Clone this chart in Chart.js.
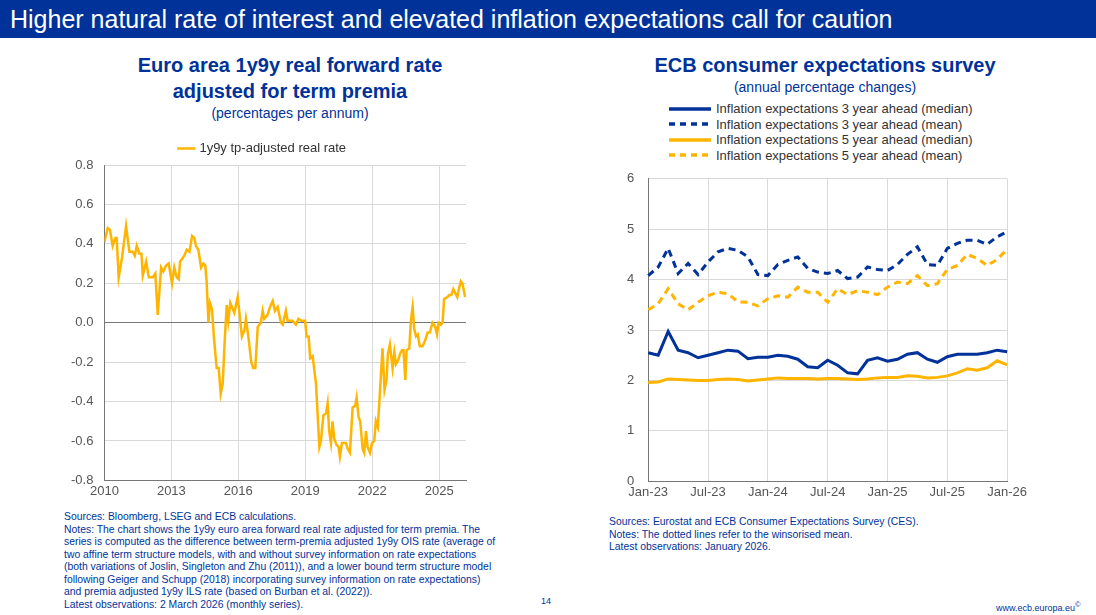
<!DOCTYPE html>
<html>
<head>
<meta charset="utf-8">
<script src="https://cdn.jsdelivr.net/npm/chart.js@4"></script>
<style>
  body { margin: 0; width: 1096px; height: 615px; background: #fff; font-family: "Liberation Sans", Arial, sans-serif; position: relative; overflow: hidden; }
  .bar { position: absolute; left: 0; top: 0; width: 1096px; height: 38px; background: #003299; color: #fff; font-size: 25px; line-height: 38px; padding-left: 10px; box-sizing: border-box; }
  .t { position: absolute; text-align: center; color: #003299; }
  .t b { font-size: 20px; display: block; line-height: 26px; }
  .t span { font-size: 14px; }
  .note { position: absolute; font-size: 10.4px; line-height: 12.5px; color: #003299; }
  .box { position: absolute; }
  .leg { position: absolute; left: 668px; top: 101px; font-size: 13px; color: #333; line-height: 15.5px; }
  .leg div { display: flex; align-items: center; }
  .leg svg { margin-right: 4px; }
</style>
</head>
<body>
<div class="bar">Higher natural rate of interest and elevated inflation expectations call for caution</div>
<div class="t" style="left:80px;width:420px;top:52px"><b>Euro area 1y9y real forward rate<br>adjusted for term premia</b><span>(percentages per annum)</span></div>
<div class="t" style="left:600px;width:450px;top:52px"><b>ECB consumer expectations survey</b><span>(annual percentage changes)</span></div>
<div class="leg" id="leg"></div>
<div class="box" style="left:60px;top:132px;width:420px;height:370px"><canvas id="c1"></canvas></div>
<div class="box" style="left:610px;top:157px;width:420px;height:346px"><canvas id="c2"></canvas></div>
<div class="note" style="left:64px;top:511px;width:436px">Sources: Bloomberg, LSEG and ECB calculations.<br>Notes: The chart shows the 1y9y euro area forward real rate adjusted for term premia. The series is computed as the difference between term-premia adjusted 1y9y OIS rate (average of two affine term structure models, with and without survey information on rate expectations (both variations of Joslin, Singleton and Zhu (2011)), and a lower bound term structure model following Geiger and Schupp (2018) incorporating survey information on rate expectations) and premia adjusted 1y9y ILS rate (based on Burban et al. (2022)).<br>Latest observations: 2 March 2026 (monthly series).</div>
<div class="note" style="left:609px;top:516px;width:440px">Sources: Eurostat and ECB Consumer Expectations Survey (CES).<br>Notes: The dotted lines refer to the winsorised mean.<br>Latest observations: January 2026.</div>
<div class="note" style="left:541px;top:595px;font-size:9px">14</div>
<div class="note" style="left:996px;top:599px;font-size:9px">www.ecb.europa.eu<sup>©</sup></div>
<script>
Chart.defaults.font.family = '"Liberation Sans", Arial, sans-serif';
Chart.defaults.color = '#555';
Chart.defaults.animation = false;

const rateDates = [2010.00,2010.15,2010.25,2010.37,2010.49,2010.55,2010.64,2010.79,2010.97,2011.12,2011.27,2011.36,2011.45,2011.57,2011.66,2011.72,2011.87,2011.99,2012.16,2012.28,2012.39,2012.54,2012.64,2012.76,2012.88,2013.03,2013.13,2013.24,2013.33,2013.39,2013.58,2013.69,2013.81,2013.93,2014.03,2014.10,2014.21,2014.33,2014.43,2014.52,2014.58,2014.66,2014.73,2014.82,2014.91,2015.03,2015.12,2015.21,2015.30,2015.39,2015.48,2015.55,2015.64,2015.82,2015.97,2016.04,2016.16,2016.27,2016.34,2016.46,2016.58,2016.67,2016.76,2016.87,2017.01,2017.09,2017.16,2017.31,2017.42,2017.54,2017.64,2017.76,2017.91,2017.99,2018.13,2018.21,2018.36,2018.43,2018.58,2018.69,2018.84,2018.99,2019.06,2019.15,2019.22,2019.33,2019.48,2019.63,2019.70,2019.81,2019.93,2020.00,2020.07,2020.15,2020.22,2020.30,2020.40,2020.49,2020.55,2020.64,2020.75,2020.82,2020.90,2021.00,2021.12,2021.24,2021.30,2021.39,2021.46,2021.57,2021.64,2021.72,2021.79,2021.90,2021.99,2022.09,2022.16,2022.25,2022.34,2022.46,2022.55,2022.64,2022.70,2022.79,2022.91,2022.99,2023.06,2023.16,2023.24,2023.33,2023.40,2023.48,2023.54,2023.66,2023.73,2023.81,2023.88,2023.96,2024.04,2024.13,2024.25,2024.37,2024.48,2024.58,2024.70,2024.82,2024.90,2024.97,2025.07,2025.15,2025.22,2025.37,2025.45,2025.54,2025.63,2025.72,2025.81,2025.90,2025.97,2026.04,2026.16];
const rateValues = [0.41,0.48,0.47,0.39,0.43,0.43,0.23,0.33,0.49,0.36,0.36,0.34,0.39,0.35,0.35,0.24,0.31,0.23,0.23,0.25,0.04,0.28,0.26,0.29,0.30,0.20,0.28,0.23,0.22,0.31,0.34,0.37,0.36,0.44,0.43,0.39,0.37,0.28,0.30,0.29,0.21,0.00,0.10,0.07,-0.08,-0.23,-0.23,-0.36,-0.31,-0.09,0.09,0.01,0.10,0.05,0.13,0.06,-0.07,-0.04,0.02,-0.08,-0.20,-0.23,-0.23,-0.02,0.00,0.06,0.02,0.04,0.08,0.11,0.06,0.08,0.00,-0.01,0.06,0.01,0.01,0.01,-0.01,0.02,0.01,0.01,-0.07,-0.07,-0.18,-0.17,-0.31,-0.63,-0.60,-0.47,-0.46,-0.41,-0.55,-0.61,-0.50,-0.59,-0.62,-0.63,-0.68,-0.61,-0.61,-0.61,-0.64,-0.66,-0.43,-0.42,-0.38,-0.48,-0.50,-0.64,-0.66,-0.55,-0.63,-0.66,-0.61,-0.60,-0.50,-0.53,-0.36,-0.13,-0.34,-0.29,-0.16,-0.11,-0.23,-0.15,-0.21,-0.19,-0.16,-0.14,-0.14,-0.29,-0.14,-0.13,0.01,0.08,-0.03,-0.07,-0.06,-0.12,-0.12,-0.09,-0.05,-0.05,0.00,-0.02,-0.06,0.00,-0.01,0.00,0.12,0.13,0.14,0.14,0.17,0.15,0.13,0.18,0.21,0.20,0.13];
const rateYearTicks = [2010, 2013, 2016, 2019, 2022, 2025];

const months = ['Jan-23','Feb-23','Mar-23','Apr-23','May-23','Jun-23','Jul-23','Aug-23','Sep-23','Oct-23','Nov-23','Dec-23',
  'Jan-24','Feb-24','Mar-24','Apr-24','May-24','Jun-24','Jul-24','Aug-24','Sep-24','Oct-24','Nov-24','Dec-24',
  'Jan-25','Feb-25','Mar-25','Apr-25','May-25','Jun-25','Jul-25','Aug-25','Sep-25','Oct-25','Nov-25','Dec-25','Jan-26'];
const med3y = [2.55,2.5,2.97,2.6,2.55,2.45,2.5,2.55,2.6,2.58,2.43,2.46,2.46,2.5,2.48,2.42,2.27,2.25,2.4,2.3,2.15,2.13,2.4,2.45,2.38,2.42,2.52,2.55,2.42,2.36,2.47,2.52,2.52,2.52,2.55,2.6,2.57];
const mean3y = [4.08,4.25,4.62,4.12,4.32,4.1,4.35,4.55,4.62,4.58,4.45,4.1,4.08,4.3,4.38,4.45,4.22,4.15,4.12,4.18,4.02,4.05,4.25,4.2,4.18,4.3,4.5,4.65,4.3,4.28,4.62,4.72,4.78,4.78,4.7,4.85,4.95];
const med5y = [1.96,1.97,2.03,2.02,2.01,2.0,2.0,2.02,2.03,2.02,1.99,2.01,2.03,2.05,2.04,2.04,2.04,2.03,2.04,2.04,2.03,2.02,2.03,2.05,2.06,2.06,2.09,2.08,2.05,2.06,2.09,2.15,2.23,2.2,2.25,2.39,2.31];
const mean5y = [3.4,3.52,3.82,3.52,3.4,3.55,3.68,3.75,3.72,3.56,3.55,3.48,3.62,3.68,3.65,3.85,3.75,3.75,3.55,3.82,3.7,3.78,3.75,3.7,3.85,3.95,3.92,4.08,3.88,3.92,4.2,4.28,4.5,4.42,4.28,4.4,4.6];
const monthTicks = ['Jan-23','Jul-23','Jan-24','Jul-24','Jan-25','Jul-25','Jan-26'];

const BLUE = '#003299', YELLOW = '#FFB400', GRID = '#d9d9d9';

new Chart(document.getElementById('c1'), {
  type: 'line',
  data: { datasets: [{ label: '1y9y tp-adjusted real rate', data: rateDates.map((d, i) => ({ x: d, y: rateValues[i] })),
    borderColor: YELLOW, backgroundColor: YELLOW, borderWidth: 2.5, pointRadius: 0, tension: 0 }] },
  options: {
    responsive: true, maintainAspectRatio: false,
    layout: { padding: { right: 14, left: 0 } },
    plugins: { legend: { labels: { usePointStyle: true, pointStyle: 'line', boxWidth: 30, color: '#333', font: { size: 13 } } }, tooltip: { enabled: false } },
    scales: {
      x: { type: 'linear', min: 2010, max: 2026.2,
        afterBuildTicks: a => { a.ticks = rateYearTicks.map(v => ({ value: v })); },
        ticks: { callback: v => String(v), font: { size: 13 }, color: '#555', maxRotation: 0 },
        grid: { color: GRID, drawTicks: false }, border: { color: '#777' } },
      y: { min: -0.8, max: 0.8, ticks: { stepSize: 0.2, callback: v => v.toFixed(1), font: { size: 13 }, color: '#555', padding: 11 },
        grid: { color: c => Math.abs(c.tick.value) < 1e-9 ? '#777' : GRID, drawTicks: false }, border: { color: '#777' } }
    }
  }
});

const sets2 = [
  { label: 'Inflation expectations 3 year ahead (median)', data: med3y, color: BLUE, dash: [] },
  { label: 'Inflation expectations 3 year ahead (mean)', data: mean3y, color: BLUE, dash: [7, 5] },
  { label: 'Inflation expectations 5 year ahead (median)', data: med5y, color: YELLOW, dash: [] },
  { label: 'Inflation expectations 5 year ahead (mean)', data: mean5y, color: YELLOW, dash: [7, 5] }
];
document.getElementById('leg').innerHTML = sets2.map(s =>
  `<div><svg width="44" height="6"><line x1="1" y1="3" x2="43" y2="3" stroke="${s.color}" stroke-width="3.5" stroke-dasharray="${s.dash.length ? '6 5' : 'none'}"/></svg>${s.label}</div>`).join('');

new Chart(document.getElementById('c2'), {
  type: 'line',
  data: { labels: months, datasets: sets2.map(s => ({ label: s.label, data: s.data, borderColor: s.color, backgroundColor: s.color,
    borderWidth: 3, borderDash: s.dash, pointRadius: 0, tension: 0 })) },
  options: {
    responsive: true, maintainAspectRatio: false,
    layout: { padding: { right: 22, left: 3, top: 4 } },
    plugins: { legend: { display: false }, tooltip: { enabled: false } },
    scales: {
      x: { ticks: { autoSkip: false, maxRotation: 0, font: { size: 13 }, color: '#555', callback: function (v) { const l = this.getLabelForValue(v); return monthTicks.includes(l) ? l : ''; } },
        grid: { color: c => monthTicks.includes(months[c.index]) ? GRID : 'transparent', drawTicks: false }, border: { color: '#777' } },
      y: { min: 0, max: 6, ticks: { stepSize: 1, font: { size: 13 }, color: '#555', padding: 14 },
        grid: { color: GRID, drawTicks: false }, border: { color: '#777' } }
    }
  }
});
</script>
</body>
</html>
